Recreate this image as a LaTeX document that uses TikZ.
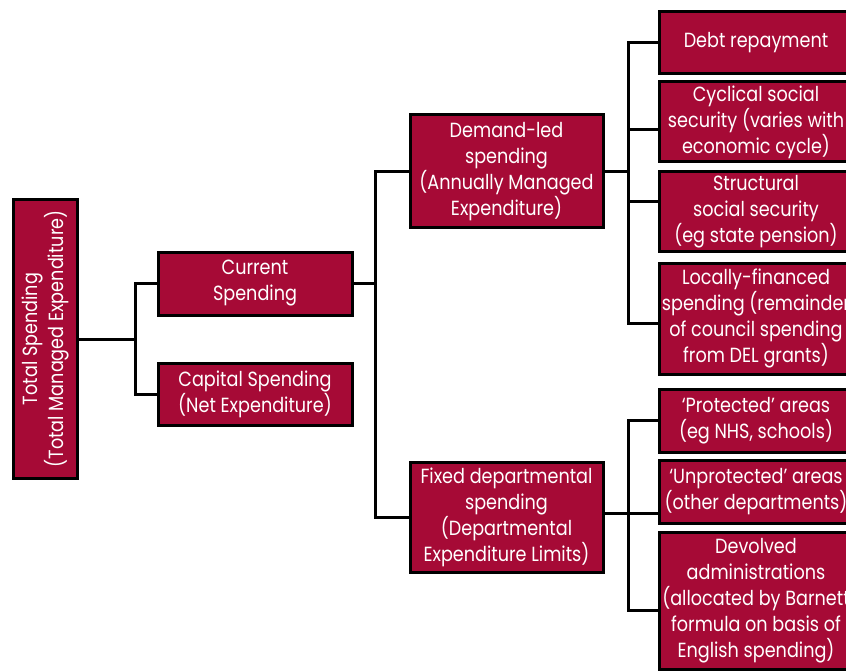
\documentclass[tikz,border=0pt]{standalone}
\usepackage{fontspec}
\setmainfont{Poppins}[FakeStretch=0.86]
\definecolor{crim}{RGB}{166,10,54}
\begin{document}
\begin{tikzpicture}[x=1pt,y=-1pt,
  box/.style={draw=black,line width=3pt,fill=crim,text=white,align=center,inner sep=0pt,
    font=\fontsize{20.5}{26}\selectfont},
  conn/.style={draw=black,line width=3pt,line join=miter}]
\path[use as bounding box,clip] (0,0) rectangle (846,671);
\fill[white] (0,0) rectangle (846,671);
% nodes
\node[box,rotate=90,minimum width=278,minimum height=64] (tot) at (45,339) {Total Spending\\(Total Managed Expenditure)};
\node[box,minimum width=194,minimum height=63] (cur) at (255,283.5) {Current\\Spending};
\node[box,minimum width=194,minimum height=62] (cap) at (255,394) {Capital Spending\\(Net Expenditure)};
\node[box,minimum width=193,minimum height=113] (dem) at (506.5,171.5) {Demand-led\\spending\\(Annually Managed\\Expenditure)};
\node[box,minimum width=193,minimum height=110] (fix) at (506.5,517) {Fixed departmental\\spending\\(Departmental\\Expenditure Limits)};
\node[box,minimum width=194,minimum height=62] (debt) at (756,42.5) {Debt repayment};
\node[box,minimum width=194,minimum height=80] (cyc) at (756,122) {Cyclical social\\security (varies with\\economic cycle)};
\node[box,minimum width=194,minimum height=79] (str) at (756,211.5) {Structural\\social security\\(eg state pension)};
\node[box,minimum width=194,minimum height=111] (loc) at (756,318.5) {Locally-financed\\spending (remainder\\of council spending\\from DEL grants)};
\node[box,minimum width=194,minimum height=63] (pro) at (756,420.5) {‘Protected’ areas\\(eg NHS, schools)};
\node[box,minimum width=194,minimum height=63] (unp) at (756,491.5) {‘Unprotected’ areas\\(other departments)};
\node[box,minimum width=194,minimum height=137] (dev) at (756,600.5) {Devolved\\administrations\\(allocated by Barnett\\formula on basis of\\English spending)};
% junctions
\coordinate (j1) at (135,339);
\coordinate (j2) at (375,283.5);
\coordinate (j3) at (628,171.5);
\coordinate (j4) at (628,513);
% connectors
\draw[conn] (tot.south) -- (j1);
\draw[conn] (cur.west) -| (j1) |- (cap.west);
\draw[conn] (cur.east) -- (j2);
\draw[conn] (dem.west) -| (j2) |- (fix.west);
\draw[conn] (dem.east) -- (j3);
\draw[conn] (debt.west) -| (j3) |- ([yshift=-4.5pt]loc.west);
\draw[conn] ([yshift=-8pt]cyc.west) -| (j3);
\draw[conn] ([yshift=9.5pt]str.west) -| (j3);
\draw[conn] (fix.east |- j4) -- (j4);
\draw[conn] (pro.west) -| (j4) |- ([yshift=-9.5pt]dev.west);
\draw[conn] (unp.west |- j4) -- (j4);
\end{tikzpicture}
\end{document}
